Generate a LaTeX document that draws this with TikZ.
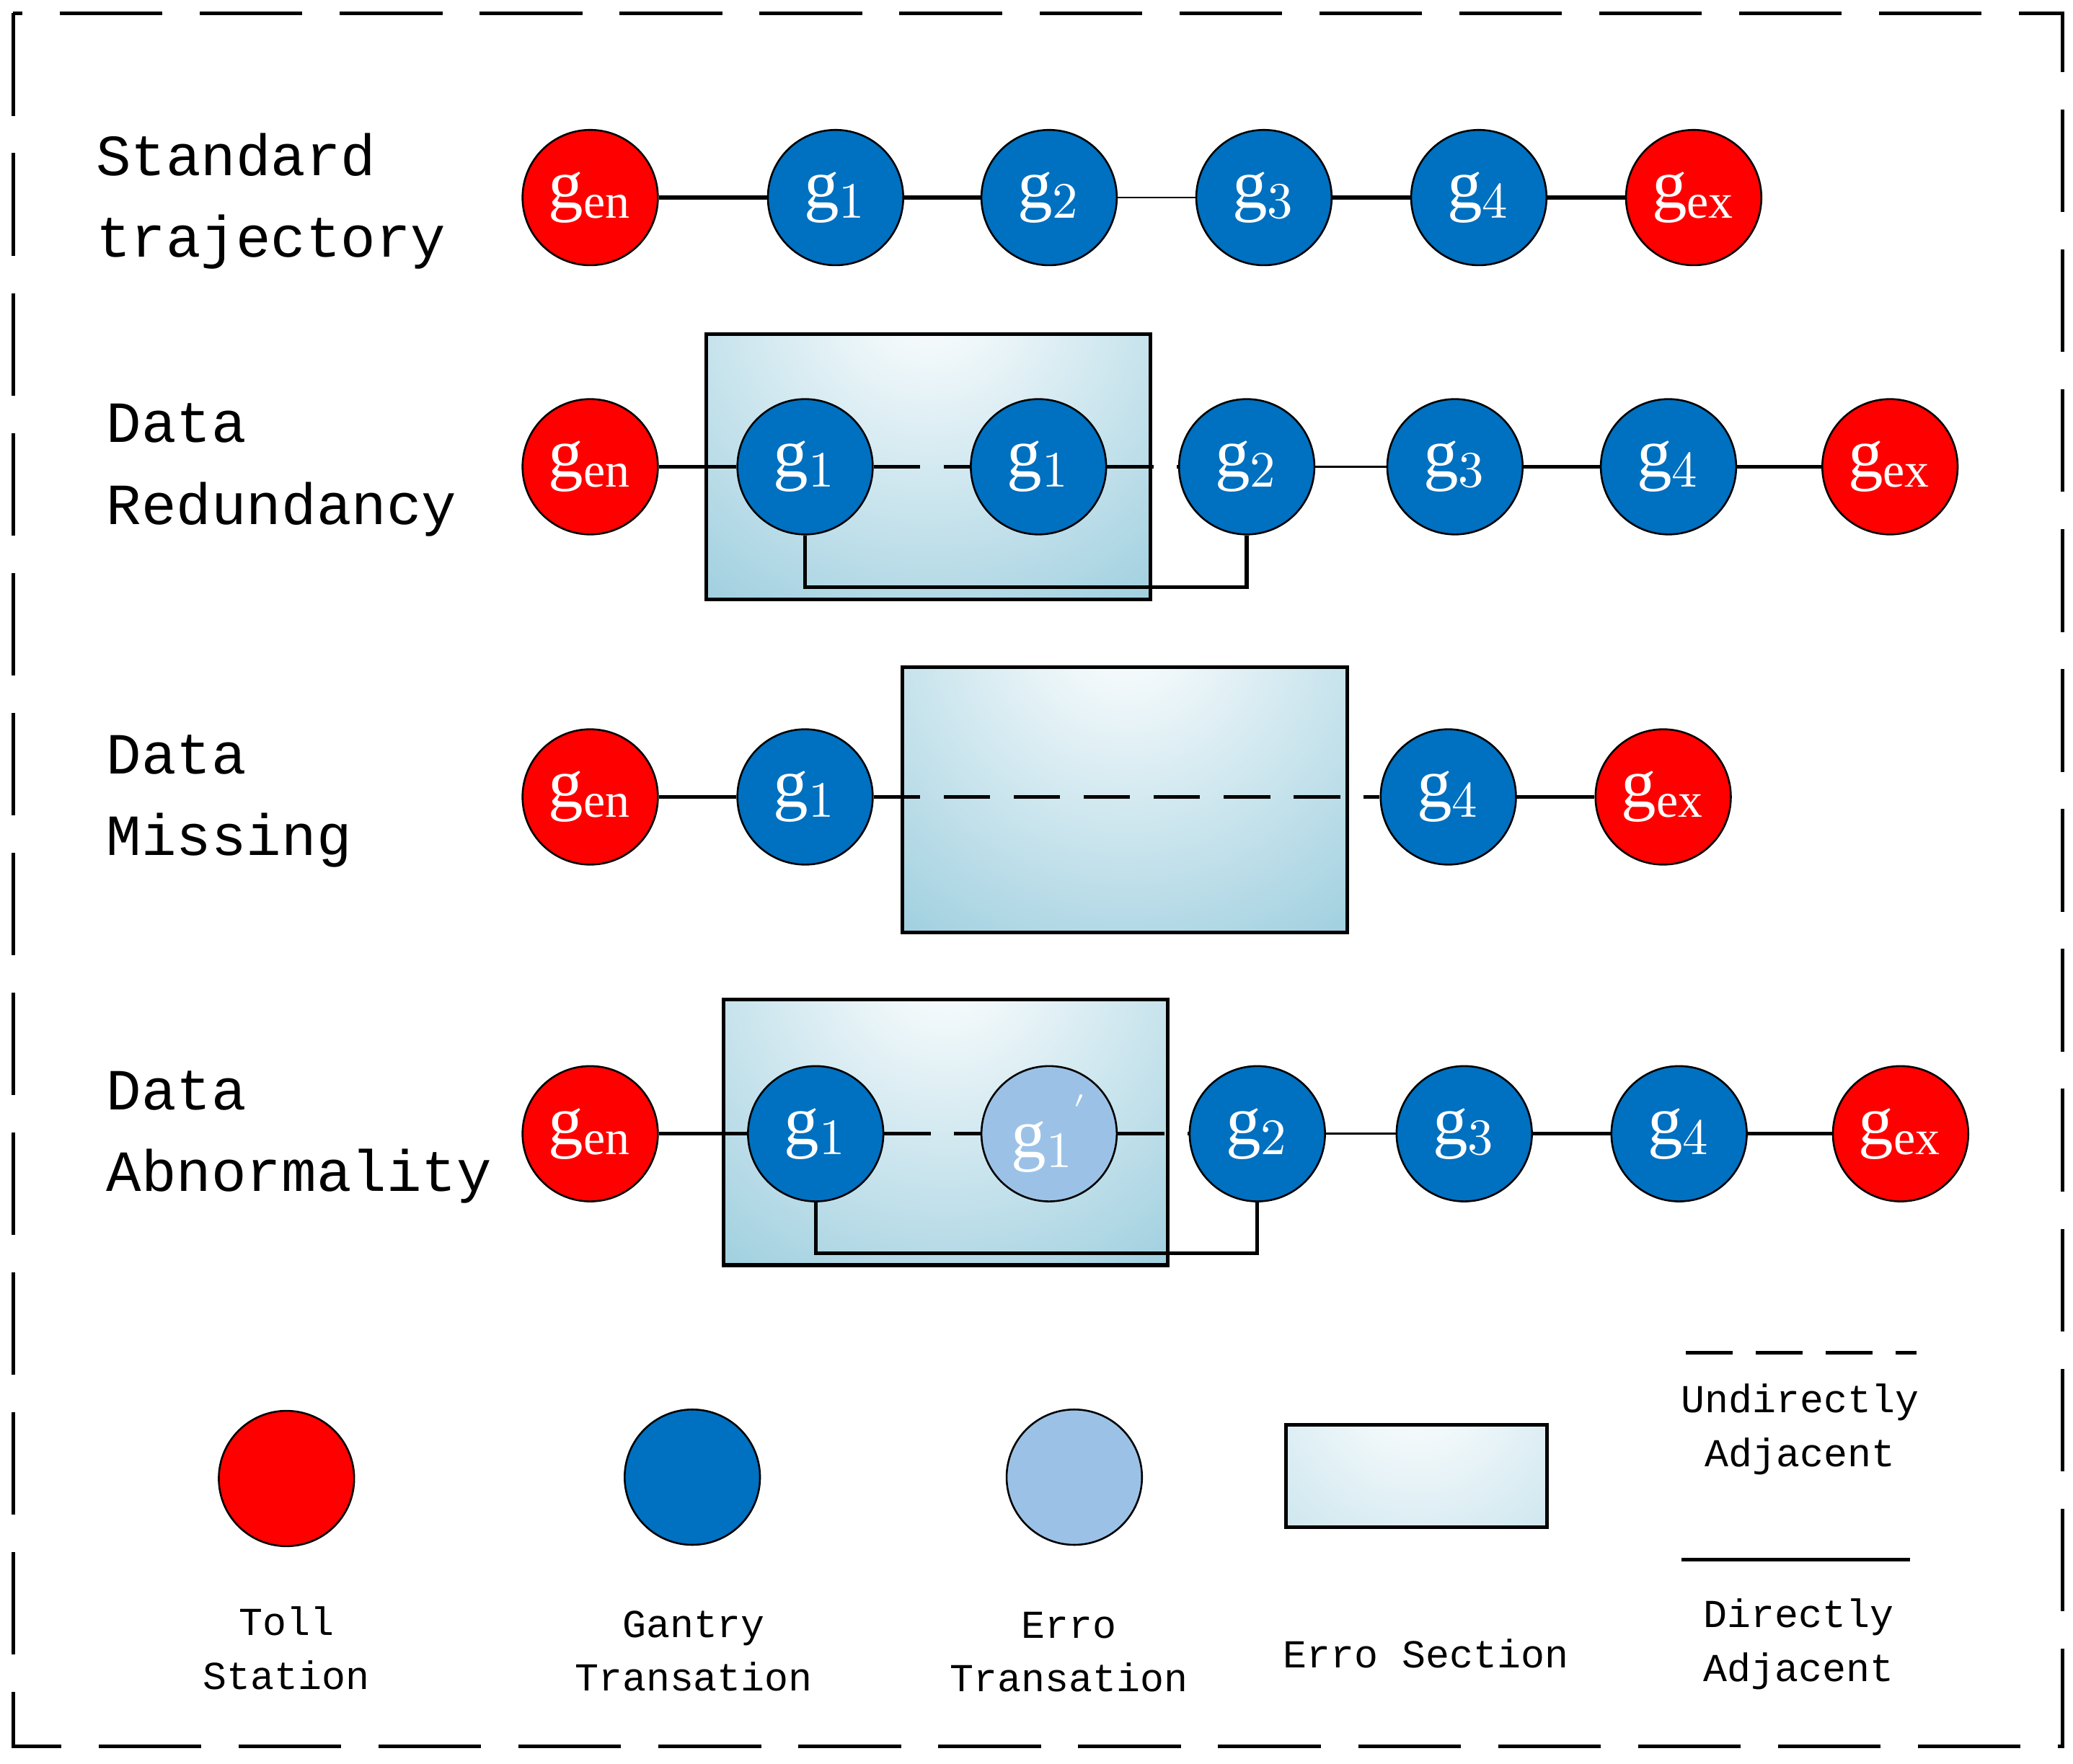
\documentclass[tikz,border=0pt]{standalone}
\usepackage{fontspec}
\setmainfont{Liberation Serif}
\newfontfamily\monofont{Liberation Mono}
\usetikzlibrary{positioning,calc}
\definecolor{tollred}{RGB}{255,0,0}
\definecolor{gantryblue}{RGB}{0,112,192}
\definecolor{erroblue}{RGB}{155,194,230}
\definecolor{errteal}{RGB}{75,165,195}
\begin{document}
\begin{tikzpicture}[x=0.01cm,y=-0.01cm]
    \tikzstyle{toll}=[circle,draw=black,fill=tollred,minimum size=1.02cm,inner sep=0pt,text=white,font=\fontsize{15}{15}\selectfont]
    \tikzstyle{gantry}=[toll,fill=gantryblue]
    \tikzstyle{erro}=[toll,fill=erroblue]
    \tikzstyle{errbox}=[draw=black,thick,fill=errteal,path picture={\shade[inner color=white,outer color=errteal]
      ($(path picture bounding box.north)+(0,-30)$) circle (5.4cm);}]
    \tikzstyle{rowlabel}=[anchor=north west,align=left,font=\monofont\fontsize{12.5}{17.5}\selectfont]
    \tikzstyle{legendlabel}=[align=center,font=\monofont\fontsize{8.5}{11.5}\selectfont]
    \tikzstyle{direct}=[thick]
    \tikzstyle{indirect}=[thick,dash pattern=on 10pt off 5pt]

    \useasboundingbox (0,0) rectangle (1563,1330);
    \draw[thick,dash pattern=on 22pt off 8pt] (10,10) rectangle (1555,1317);

    % standard trajectory
    \node [rowlabel] at (60,88) {Standard\\trajectory};
    \node [toll]   (sen) at (445,149) {g$_{\mathrm{en}}$};
    \node [gantry] (sg1) at (630,149) {g$_1$};
    \node [gantry] (sg2) at (791,149) {g$_2$};
    \node [gantry] (sg3) at (953,149) {g$_3$};
    \node [gantry] (sg4) at (1115,149) {g$_4$};
    \node [toll]   (sex) at (1277,149) {g$_{\mathrm{ex}}$};
    \draw [direct] (sen) -- (sg1) -- (sg2);
    \draw [thin] (sg2) -- (sg3);
    \draw [direct] (sg3) -- (sg4) -- (sex);

    % data redundancy
    \node [rowlabel] at (68,292) {Data\\Redundancy};
    \node [errbox,minimum width=3.35cm,minimum height=2cm] (rbox) at (700,352) {};
    \node [toll]   (ren) at (445,352) {g$_{\mathrm{en}}$};
    \node [gantry] (rg1) at (607,352) {g$_1$};
    \node [gantry] (rg1b) at (783,352) {g$_1$};
    \node [gantry] (rg2) at (940,352) {g$_2$};
    \node [gantry] (rg3) at (1097,352) {g$_3$};
    \node [gantry] (rg4) at (1258,352) {g$_4$};
    \node [toll]   (rex) at (1425,352) {g$_{\mathrm{ex}}$};
    \draw [direct] (ren) -- (rg1);
    \draw [indirect] (rg1) -- (rg1b);
    \draw [indirect] (rg1b) -- (rg2);
    \draw [thin] (rg2) -- (rg3);
    \draw [direct] (rg3) -- (rg4) -- (rex);
    \draw [direct] (rg1) |- (786,443) -| (rg2);

    % data missing
    \node [rowlabel] at (68,542) {Data\\Missing};
    \node [errbox,minimum width=3.35cm,minimum height=2cm] (mbox) at (848,603) {};
    \node [toll]   (men) at (445,601) {g$_{\mathrm{en}}$};
    \node [gantry] (mg1) at (607,601) {g$_1$};
    \node [gantry] (mg4) at (1092,601) {g$_4$};
    \node [toll]   (mex) at (1254,601) {g$_{\mathrm{ex}}$};
    \draw [direct] (men) -- (mg1);
    \draw [indirect] (mg1) -- (mg4);
    \draw [direct] (mg4) -- (mex);

    % data abnormality
    \node [rowlabel] at (68,795) {Data\\Abnormality};
    \node [errbox,minimum width=3.35cm,minimum height=2cm] (abox) at (713,854) {};
    \node [toll]   (aen) at (445,855) {g$_{\mathrm{en}}$};
    \node [gantry] (ag1) at (615,855) {g$_1$};
    \node [erro]   (ag1b) at (791,855) {g$_1$\raisebox{1.1ex}{\scriptsize$'$}};
    \node [gantry] (ag2) at (948,855) {g$_2$};
    \node [gantry] (ag3) at (1104,855) {g$_3$};
    \node [gantry] (ag4) at (1266,855) {g$_4$};
    \node [toll]   (aex) at (1433,855) {g$_{\mathrm{ex}}$};
    \draw [direct] (aen) -- (ag1);
    \draw [indirect] (ag1) -- (ag1b);
    \draw [indirect] (ag1b) -- (ag2);
    \draw [thin] (ag2) -- (ag3);
    \draw [direct] (ag3) -- (ag4) -- (aex);
    \draw [direct] (ag1) |- (790,945) -| (ag2);

    % legend
    \node [toll]   (ltoll) at (216,1115) {};
    \node [gantry] (lgantry) at (522,1114) {};
    \node [erro]   (lerro) at (810,1114) {};
    \node [errbox,minimum width=1.97cm,minimum height=0.77cm] (lbox) at (1068,1113) {};
    \node [legendlabel] at (216,1243) {Toll\\Station};
    \node [legendlabel] at (523,1245) {Gantry\\Transation};
    \node [legendlabel] at (806,1246) {Erro\\Transation};
    \node [legendlabel] at (1075,1247) {Erro Section};
    \coordinate (ua) at (1271,1020);
    \coordinate (ub) at (1445,1020);
    \coordinate (da) at (1268,1176);
    \coordinate (db) at (1440,1176);
    \draw [indirect] (ua) -- (ub);
    \draw [direct] (da) -- (db);
    \node [legendlabel] at (1357,1078) {Undirectly\\Adjacent};
    \node [legendlabel] at (1356,1240) {Directly\\Adjacent};
\end{tikzpicture}
\end{document}
